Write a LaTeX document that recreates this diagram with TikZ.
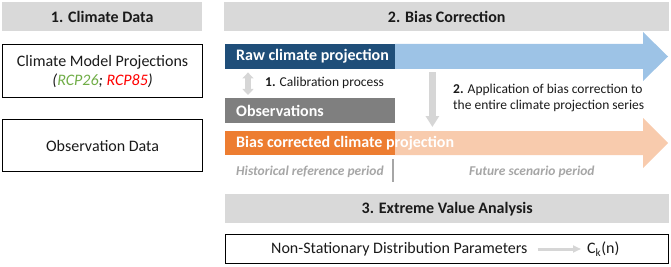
\documentclass[tikz,border=0pt]{standalone}
\usepackage{fontspec}
\setmainfont{Carlito}
\usetikzlibrary{arrows.meta}
\definecolor{hdr}{HTML}{D9D9D9}
\definecolor{dblue}{HTML}{1F4E79}
\definecolor{lblue}{HTML}{9DC3E6}
\definecolor{obsgray}{HTML}{7F7F7F}
\definecolor{orng}{HTML}{ED7D31}
\definecolor{lorng}{HTML}{F8CBAD}
\definecolor{rcpgreen}{HTML}{70AD47}
\definecolor{rcpred}{HTML}{FF0000}
\definecolor{ital}{HTML}{A6A6A6}
\definecolor{txt}{HTML}{1A1A1A}
\definecolor{arrgray}{HTML}{D6D6D6}
\begin{document}
\begin{tikzpicture}[x=1pt,y=-1pt,
  big/.style={font=\fontsize{16}{19}\selectfont},
  small/.style={font=\fontsize{13.5}{16}\selectfont},
  hdrbox/.style={fill=hdr, inner sep=0pt, anchor=north west, text=txt, font=\fontsize{16}{19}\selectfont\bfseries},
  framebox/.style={draw=black, line width=1.2pt, inner sep=0pt, anchor=north west, text=txt, align=center, big},
  barbox/.style={inner sep=0pt, anchor=north west, minimum width=170pt, minimum height=25pt},
  bartext/.style={anchor=west, inner sep=0pt, text=white, font=\fontsize{16}{19}\selectfont\bfseries},
  periodtext/.style={anchor=west, inner sep=0pt, text=ital, font=\fontsize{13.5}{16}\selectfont\bfseries\itshape},
  blockarrow/.style={draw=arrgray, line width=#1}
]
\useasboundingbox (0,0) rectangle (671,267);

% headers
\node[hdrbox, minimum width=200pt, minimum height=29pt] (h1) at (2,2) {1. Climate Data};
\node[hdrbox, minimum width=445pt, minimum height=29pt] (h2) at (224,2) {2. Bias Correction};

% climate data boxes
\node[framebox, minimum width=200pt, minimum height=53pt] (cmp) at (2,44)
  {Climate Model Projections\\ \textit{(\textcolor{rcpgreen}{RCP26}; \textcolor{rcpred}{RCP85})}};
\node[framebox, minimum width=200pt, minimum height=52pt] (obsdata) at (2,119) {Observation Data};

% blue arrow
\fill[lblue] (395,44) -- (643,44) -- (643,32) -- (668,56.5) -- (643,81) -- (643,69) -- (395,69) -- cycle;
\node[barbox, fill=dblue] (rawbox) at (225,44) {};
\node[bartext] (rawtext) at (236,56.5) {Raw climate projection};

% observations
\node[barbox, fill=obsgray] (obsbox) at (225,98) {};
\node[bartext] (obstext) at (236,110.5) {Observations};

% orange arrow
\fill[lorng] (395,131) -- (643,131) -- (643,118) -- (668,143) -- (643,168) -- (643,155) -- (395,155) -- cycle;
\node[barbox, fill=orng, minimum height=24pt] (biasbox) at (225,131) {};
\node[bartext] (biastext) at (236,143) {Bias corrected climate projection};

% calibration double arrow
\draw[blockarrow=6pt, {Triangle[width=11pt,length=6pt]}-{Triangle[width=11pt,length=6pt]}]
  ([xshift=23pt,yshift=-3pt]rawbox.south west) -- ([xshift=23pt,yshift=3pt]obsbox.north west);
\node[anchor=west, inner sep=0pt, text=txt, small] (calib) at (265,83) {\textbf{1.} Calibration process};

% application down arrow
\draw[blockarrow=7pt, -{Triangle[width=13pt,length=11pt]}]
  ([xshift=37pt,yshift=-3pt]rawbox.south east) -- ([xshift=37pt,yshift=4pt]biasbox.north east);
\node[anchor=west, inner sep=0pt, text=txt, small, align=left] (appl) at (453,98)
  {\textbf{2.} Application of bias correction to\\the entire climate projection series};

% periods
\node[periodtext] (hist) at (236,172) {Historical reference period};
\coordinate (sepTop) at (393,159);
\coordinate (sepBot) at (393,182);
\draw[ital, line width=1.2pt] (sepTop) -- (sepBot);
\node[periodtext] (fut) at (469,172) {Future scenario period};

% extreme value analysis
\node[hdrbox, minimum width=444pt, minimum height=29pt] (h3) at (225,194) {3. Extreme Value Analysis};
\node[framebox, minimum width=443pt, minimum height=29pt] (nsbox) at (225,234) {};
\node[anchor=west, inner sep=0pt, text=txt, big] (nstext) at (271,249) {Non-Stationary Distribution Parameters};
\node[anchor=west, inner sep=0pt, text=txt, big] (ck) at (587,249) {C\textsubscript{k}(n)};
\draw[blockarrow=3pt, -{Triangle[width=7pt,length=8pt]}] ([xshift=10pt]nstext.east) -- ([xshift=-6pt]ck.west);
\end{tikzpicture}
\end{document}
